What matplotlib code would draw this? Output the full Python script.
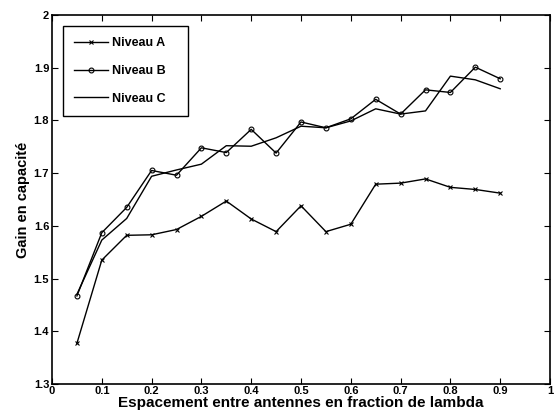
import numpy as np
import matplotlib
matplotlib.use("Agg")
import matplotlib.pyplot as plt

plt.rcParams['font.family'] = ['Liberation Sans', 'DejaVu Sans']
plt.rcParams['font.weight'] = 'bold'

espacement = [0.05, 0.1, 0.15, 0.2, 0.25, 0.3, 0.35, 0.4, 0.45,
              0.5, 0.55, 0.6, 0.65, 0.7, 0.75, 0.8, 0.85, 0.9]
niveau_a = [1.377, 1.535, 1.582, 1.583, 1.593, 1.618, 1.647, 1.613, 1.589,
            1.638, 1.589, 1.603, 1.679, 1.681, 1.689, 1.673, 1.669, 1.662]
niveau_b = [1.467, 1.587, 1.635, 1.705, 1.696, 1.748, 1.739, 1.783, 1.738,
            1.797, 1.786, 1.803, 1.840, 1.812, 1.858, 1.853, 1.901, 1.879]
niveau_c = [1.470, 1.573, 1.614, 1.694, 1.706, 1.717, 1.752, 1.751, 1.767,
            1.789, 1.786, 1.799, 1.822, 1.812, 1.818, 1.884, 1.877, 1.860]

fig = plt.figure(figsize=(5.55, 4.16), dpi=100)
ax = fig.add_axes([0.0937, 0.077, 0.8973, 0.887])

ax.plot(espacement, niveau_a, color='black', lw=1, marker='x', ms=2.5, mew=0.8, label='Niveau A')
ax.plot(espacement, niveau_b, color='black', lw=1, marker='o', ms=3.5, mfc='none', mew=0.8, label='Niveau B')
ax.plot(espacement, niveau_c, color='black', lw=1, label='Niveau C')

ax.set_xlim(0, 1)
ax.set_ylim(1.3, 2.0)
ax.set_xticks(np.arange(0, 1.01, 0.1))
ax.set_xticklabels(['0', '0.1', '0.2', '0.3', '0.4', '0.5', '0.6', '0.7', '0.8', '0.9', '1'])
ax.set_yticks(np.arange(1.3, 2.01, 0.1))
ax.set_yticklabels(['1.3', '1.4', '1.5', '1.6', '1.7', '1.8', '1.9', '2'])
ax.tick_params(direction='in', top=True, right=True, labelsize=8, length=4, width=0.8, pad=2)
ax.tick_params(axis='x', pad=1.5)
for s in ax.spines.values():
    s.set_linewidth(1.2)

ax.set_xlabel('Espacement entre antennes en fraction de lambda', fontsize=11, fontweight='bold', labelpad=0)
ax.set_ylabel('Gain en capacité', fontsize=10.5, fontweight='bold', labelpad=3)

leg = ax.legend(loc='upper left', bbox_to_anchor=(0.0215, 0.74, 0.251, 0.23), mode='expand',
                borderaxespad=0, fontsize=9, frameon=True, fancybox=False, edgecolor='black',
                framealpha=1, handlelength=2.7, labelspacing=1.25, borderpad=0.9, handletextpad=0.35)
leg.get_frame().set_linewidth(1.0)

fig.savefig('out.png', dpi=100)
